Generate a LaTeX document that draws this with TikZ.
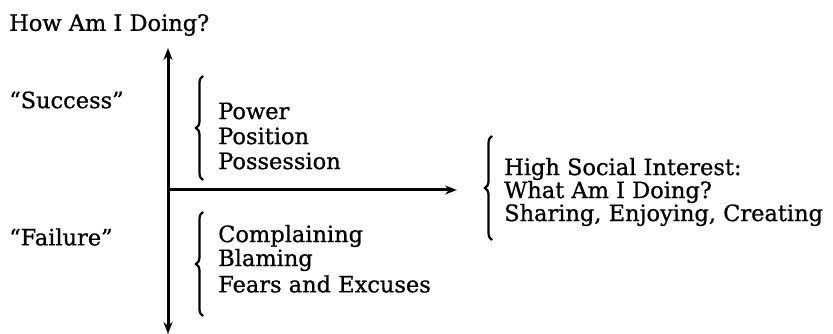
\documentclass[tikz,border=0pt]{standalone}
\usepackage{fontspec}
\setmainfont{DejaVu Serif}[FakeBold=0.8]
\usetikzlibrary{arrows.meta,decorations.pathreplacing}
\begin{document}
\begin{tikzpicture}[x=1pt,y=-1pt,
  lbl/.style={anchor=west,inner sep=0pt,font=\fontsize{22.5}{26}\selectfont},
  axis/.style={line width=3pt,-{Stealth[length=12pt,width=9pt]}},
  curly/.style={line width=2.2pt,decorate,decoration={brace,amplitude=7pt,mirror}}]
\useasboundingbox (0,0) rectangle (833,334);
% axes
\coordinate (o) at (168,190);
\coordinate (top) at (168,48);
\coordinate (bot) at (168,334);
\coordinate (right) at (457,190);
\draw[axis] (o) -- (top);
\draw[axis] (o) -- (bot);
\draw[axis] (o) -- (right);
% labels
\node[lbl] (title) at (9,25) {How Am I Doing?};
\node[lbl] (succ) at (9,100) {“Success”};
\node[lbl] (fail) at (9,237) {“Failure”};
\node[lbl] (pow) at (218,111) {Power};
\node[lbl] (pos) at (218,136) {Position};
\node[lbl] (poss) at (218,161) {Possession};
\node[lbl] (comp) at (218,236) {Complaining};
\node[lbl] (blam) at (218,260) {Blaming};
\node[lbl] (fear) at (218,284) {Fears and Excuses};
\node[lbl] (high) at (504,169) {High Social Interest:};
\node[lbl] (what) at (504,192) {What Am I Doing?};
\node[lbl] (shar) at (504,215) {Sharing, Enjoying, Creating};
% braces
\draw[curly] (203,76) -- (203,180);
\draw[curly] (203,212) -- (203,316);
\draw[curly] (492,136) -- (492,240);
\end{tikzpicture}
\end{document}
